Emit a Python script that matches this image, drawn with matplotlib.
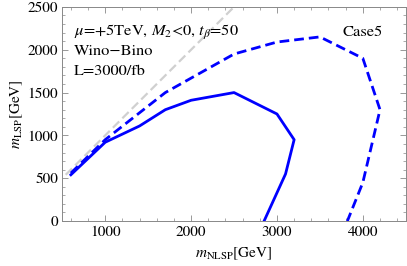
import matplotlib
matplotlib.use("Agg")
import matplotlib.pyplot as plt
from matplotlib.ticker import MultipleLocator

plt.rcParams["font.family"] = ["STIXGeneral", "DejaVu Serif"]
plt.rcParams["mathtext.fontset"] = "stix"

# 95% reach (solid) and discovery-like contour (dashed)
solid_x = [600, 1000, 1400, 1700, 2000, 2500, 3000, 3200, 3100, 2850]
solid_y = [540, 920, 1110, 1300, 1410, 1500, 1250, 950, 550, 0]

dash_x = [600, 1000, 1700, 2500, 3000, 3500, 4000, 4200, 4000, 3820]
dash_y = [560, 950, 1500, 1950, 2090, 2150, 1900, 1300, 450, 0]

diag = [540, 2600]

fig = plt.figure(figsize=(4.07, 2.66), dpi=100)
ax = fig.add_axes([0.153, 0.169, 0.844, 0.805])

ax.plot(diag, diag, color="#d0d0d0", lw=1.6, ls=(0, (4, 2)), zorder=1)
ax.plot(solid_x, solid_y, color="#0000ff", lw=2.0, zorder=3)
ax.plot(dash_x, dash_y, color="#0000ff", lw=2.0, ls=(0, (3.5, 1.8)), zorder=3)

ax.set_xlim(500, 4500)
ax.set_ylim(0, 2500)
ax.xaxis.set_major_locator(MultipleLocator(1000))
ax.xaxis.set_minor_locator(MultipleLocator(200))
ax.yaxis.set_major_locator(MultipleLocator(500))
ax.yaxis.set_minor_locator(MultipleLocator(100))
ax.tick_params(which="both", direction="in", top=True, right=True,
               color="#888888", labelsize=11, pad=3)
ax.tick_params(which="major", length=4, width=0.6)
ax.tick_params(which="minor", length=2, width=0.5)
for s in ax.spines.values():
    s.set_color("#888888")
    s.set_linewidth(0.7)

ax.set_xlabel(r"$m_{\rm NLSP}$[GeV]", fontsize=11, labelpad=5)
ax.set_ylabel(r"$m_{\rm LSP}$[GeV]", fontsize=11, labelpad=2)

ax.text(0.035, 0.865, r"$\mu$=+5TeV, $M_2$<0, $t_\beta$=50", transform=ax.transAxes,
        fontsize=11.8)
ax.text(0.035, 0.775, "Wino\u2212Bino", transform=ax.transAxes, fontsize=11.8)
ax.text(0.035, 0.68, "L=3000/fb", transform=ax.transAxes, fontsize=11.8)
ax.text(0.815, 0.865, "Case5", transform=ax.transAxes, fontsize=11.8)

fig.savefig("out.png", dpi=100)
